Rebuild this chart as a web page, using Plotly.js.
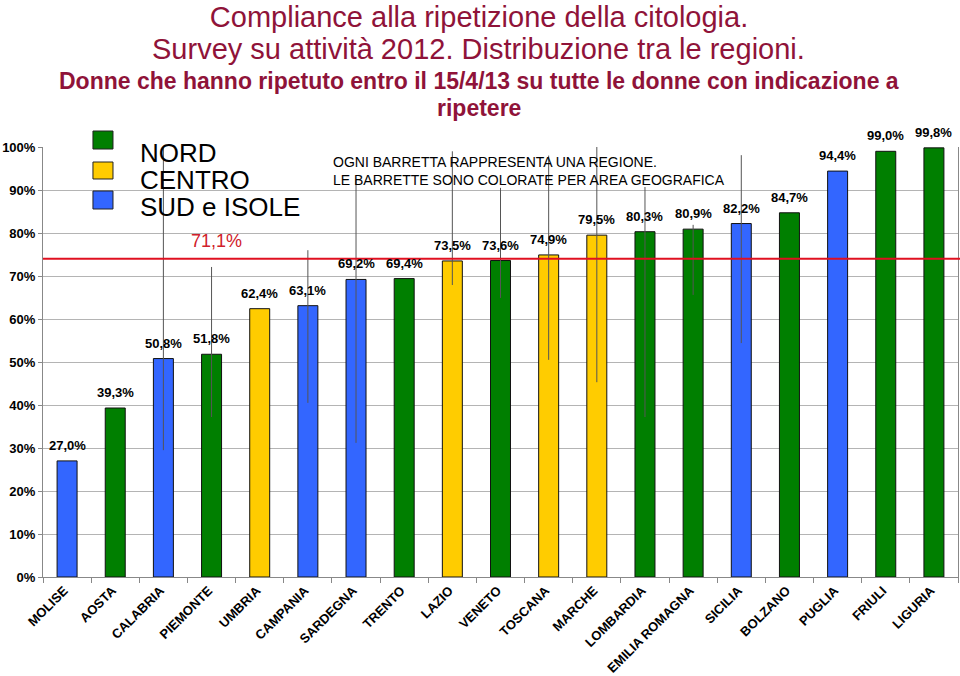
<!DOCTYPE html>
<html>
<head>
<meta charset="utf-8">
<script src="https://cdn.plot.ly/plotly-3.0.1.min.js"></script>
<style>html,body{margin:0;padding:0;background:#fff;}#chart{width:960px;height:676px;}</style>
</head>
<body>
<div id="chart"></div>
<script>
// ---- data ----
const regions = ["MOLISE","AOSTA","CALABRIA","PIEMONTE","UMBRIA","CAMPANIA","SARDEGNA","TRENTO","LAZIO","VENETO","TOSCANA","MARCHE","LOMBARDIA","EMILIA ROMAGNA","SICILIA","BOLZANO","PUGLIA","FRIULI","LIGURIA"];
const values = [27.0,39.3,50.8,51.8,62.4,63.1,69.2,69.4,73.5,73.6,74.9,79.5,80.3,80.9,82.2,84.7,94.4,99.0,99.8];
const areas = ["SUD","NORD","SUD","NORD","CENTRO","SUD","SUD","NORD","CENTRO","NORD","CENTRO","CENTRO","NORD","NORD","SUD","NORD","SUD","NORD","NORD"];
const ciHigh = [null,null,100,72.1,null,76.0,92.3,null,99.0,90.5,98.0,100,90.7,81.9,98.1,null,null,null,null];
const ciLow  = [null,null,29.5,37.2,null,40.5,31.2,null,67.9,64.9,50.5,45.3,37.2,65.6,54.4,null,null,null,null];
const areaNames = ["NORD","CENTRO","SUD e ISOLE"];
const areaKeys = ["NORD","CENTRO","SUD"];
const refLineLevel = 74.0;
const refLabel = "71,1%";
const yTicks = [0,10,20,30,40,50,60,70,80,90,100];

// ---- styles ----
const areaColors = {NORD:"#007F00", CENTRO:"#FFCC00", SUD:"#3366FF"};
const FONT = "Liberation Sans, Arial, Helvetica, sans-serif";
const titleColor = "#8f1339";

const fmt = v => v.toFixed(1).replace(".", ",") + "%";

const trace = {
  type: "bar",
  x: regions,
  y: values,
  marker: {color: areas.map(a => areaColors[a]), line: {color: "#111", width: 1}},
  error_y: {
    type: "data", symmetric: false, visible: true,
    array: values.map((v,i) => ciHigh[i] == null ? 0 : ciHigh[i] - v),
    arrayminus: values.map((v,i) => ciLow[i] == null ? 0 : v - ciLow[i]),
    color: "#555", thickness: 1, width: 0
  },
  hoverinfo: "none",
  cliponaxis: false
};

const annotations = [];
regions.forEach((r,i) => {
  annotations.push({x: r, y: values[i], xref: "x", yref: "y", text: fmt(values[i]),
    showarrow: false, yanchor: "bottom", yshift: 6,
    font: {family: FONT, size: 13, color: "#000", weight: 700}});
});
// legend
const legY = [0.986, 0.923, 0.860];
areaNames.forEach((n,i) => {
  annotations.push({x: 0.104, y: legY[i], xref: "paper", yref: "paper", text: n, showarrow: false,
    xanchor: "left", yanchor: "middle", font: {family: FONT, size: 26, color: "#000"}});
});
// reference label
annotations.push({x: 0.190, y: 0.781, xref: "paper", yref: "paper", text: refLabel, showarrow: false,
  xanchor: "center", yanchor: "middle", font: {family: FONT, size: 18, color: "#d0202a"}});
// info text
annotations.push({x: 0.315, y: 0.944, xref: "paper", yref: "paper",
  text: "OGNI BARRETTA RAPPRESENTA UNA REGIONE.<br>LE BARRETTE SONO COLORATE PER AREA GEOGRAFICA",
  showarrow: false, xanchor: "left", yanchor: "middle", align: "left",
  font: {family: FONT, size: 14, color: "#000"}});
// title lines 2-4
annotations.push({x: 0.4765, y: 1.228, xref: "paper", yref: "paper", yanchor: "middle", showarrow: false,
  text: "Survey su attività 2012. Distribuzione tra le regioni.", font: {family: FONT, size: 29, color: titleColor}});
annotations.push({x: 0.4765, y: 1.153, xref: "paper", yref: "paper", yanchor: "middle", showarrow: false,
  text: "Donne che hanno ripetuto entro il 15/4/13 su tutte le donne con indicazione a", font: {family: FONT, size: 23, color: titleColor, weight: 700}});
annotations.push({x: 0.4765, y: 1.0907, xref: "paper", yref: "paper", yanchor: "middle", showarrow: false,
  text: "ripetere", font: {family: FONT, size: 23, color: titleColor, weight: 700}});

const legBoxes = [[0.9953,1.0372],[0.9256,0.9651],[0.8558,0.8977]];
const shapes = [
  {type: "line", xref: "paper", yref: "y", x0: 0, x1: 1.01, y0: refLineLevel, y1: refLineLevel,
   line: {color: "#e01020", width: 2}}
];
areaKeys.forEach((k,i) => {
  shapes.push({type: "rect", xref: "paper", yref: "paper", x0: 0.0546, x1: 0.0765,
    y0: legBoxes[i][0], y1: legBoxes[i][1], fillcolor: areaColors[k], line: {color: "#222", width: 1}});
});

const layout = {
  width: 960, height: 676,
  margin: {l: 43, r: 2, t: 147, b: 99},
  paper_bgcolor: "#fff", plot_bgcolor: "#fff",
  showlegend: false,
  bargap: 0.585,
  title: {text: "Compliance alla ripetizione della citologia.", x: 0.499, xref: "container",
    y: 0.975, yref: "container", yanchor: "middle", xanchor: "center",
    font: {family: FONT, size: 29, color: titleColor}},
  xaxis: {
    type: "category", tickangle: -45, tickson: "boundaries", ticks: "outside", ticklen: 5,
    tickcolor: "#888", showgrid: false, showline: true, linecolor: "#888", linewidth: 1,
    ticklabelshift: -3,
    tickfont: {family: FONT, size: 13, color: "#000", weight: 700}, fixedrange: true
  },
  yaxis: {
    range: [0, 100], tickvals: yTicks, ticktext: yTicks.map(t => t + "%"),
    ticks: "outside", ticklen: 4, tickcolor: "#888",
    showgrid: true, gridcolor: "#b4b4b4", gridwidth: 1,
    showline: true, linecolor: "#888", linewidth: 1, mirror: true, zeroline: false,
    tickfont: {family: FONT, size: 13, color: "#000", weight: 700}, fixedrange: true
  },
  annotations: annotations,
  shapes: shapes
};

Plotly.newPlot("chart", [trace], layout, {displayModeBar: false, staticPlot: true});
</script>
</body>
</html>
